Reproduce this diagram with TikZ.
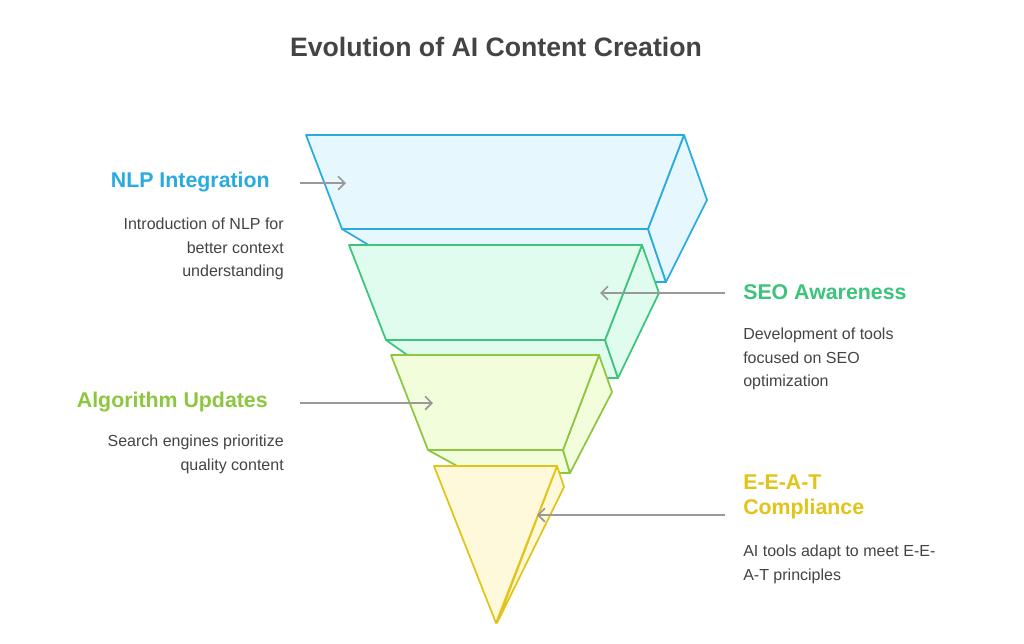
\documentclass[tikz,border=0pt]{standalone}
\usepackage{fontspec}
\setmainfont{Liberation Sans}
\usetikzlibrary{arrows.meta}
\definecolor{bS}{HTML}{29ABE2}\definecolor{bF}{HTML}{E6F7FD}
\definecolor{gS}{HTML}{3CC47C}\definecolor{gF}{HTML}{E0FCEE}
\definecolor{lS}{HTML}{8DC63F}\definecolor{lF}{HTML}{F2FDDB}
\definecolor{yS}{HTML}{E2C418}\definecolor{yF}{HTML}{FFF9DB}
\definecolor{txt}{HTML}{444444}\definecolor{arr}{HTML}{999999}
\begin{document}
\begin{tikzpicture}[x=0.75pt,y=-0.75pt,
  face/.style={line width=1.3pt,line join=round},
  conn/.style={arr,line width=1.3pt,-{Straight Barb[length=5pt,width=10pt]}},
  head/.style={font=\fontsize{16}{19}\selectfont\bfseries,inner sep=0pt},
  desc/.style={font=\fontsize{12}{17.5}\selectfont,text=txt,inner sep=0pt}]
\useasboundingbox[fill=white] (0,0) rectangle (1024,643);
\node[font=\fontsize{20}{24}\selectfont\bfseries,text=txt] (title) at (496,47) {Evolution of AI Content Creation};
% blue layer
\draw[face,draw=bS,fill=bF] (342,229)--(648,229)--(666,282)--(430,282)--cycle;
\draw[face,draw=bS,fill=bF] (684,135)--(707,200)--(666,282)--(648,229)--cycle;
\draw[face,draw=bS,fill=bF] (306,135)--(684,135)--(648,229)--(342,229)--cycle;
% green layer
\draw[face,draw=gS,fill=gF] (386,340)--(605,340)--(618,378)--(440,378)--cycle;
\draw[face,draw=gS,fill=gF] (642,245)--(659,293)--(618,378)--(605,340)--cycle;
\draw[face,draw=gS,fill=gF] (349,245)--(642,245)--(605,340)--(386,340)--cycle;
% light green layer
\draw[face,draw=lS,fill=lF] (428,450)--(563,450)--(570,473)--(470,473)--cycle;
\draw[face,draw=lS,fill=lF] (599,355)--(612,392)--(570,473)--(563,450)--cycle;
\draw[face,draw=lS,fill=lF] (391,355)--(599,355)--(563,450)--(428,450)--cycle;
% yellow layer
\draw[face,draw=yS,fill=yF] (557,466)--(564,487)--(497,623)--cycle;
\draw[face,draw=yS,fill=yF] (434,466)--(557,466)--(496,623)--cycle;
% labels
\node[head,text=bS,anchor=east] (h1) at (270,182) {NLP Integration};
\node[desc,anchor=north east,align=right] (d1) at (284,218) {Introduction of NLP for\\better context\\understanding};
\node[head,text=gS,anchor=west] (h2) at (743,292) {SEO Awareness};
\node[desc,anchor=north west,align=left] (d2) at (743,328) {Development of tools\\focused on SEO\\optimization};
\node[head,text=lS,anchor=east] (h3) at (268,402) {Algorithm Updates};
\node[desc,anchor=north east,align=right] (d3) at (284,435) {Search engines prioritize\\quality content};
\node[head,text=yS,anchor=west,align=left] (h4) at (743,497) {E-E-A-T\\Compliance};
\node[desc,anchor=north west,align=left] (d4) at (743,545) {AI tools adapt to meet E-E-\\A-T principles};
% connectors
\coordinate (a1s) at (300,183); \coordinate (a1e) at (346,183);
\coordinate (a2s) at (725,293); \coordinate (a2e) at (600,293);
\coordinate (a3s) at (300,403); \coordinate (a3e) at (433,403);
\coordinate (a4s) at (725,515); \coordinate (a4e) at (537,515);
\draw[conn] (a1s)--(a1e);
\draw[conn] (a2s)--(a2e);
\draw[conn] (a3s)--(a3e);
\draw[conn] (a4s)--(a4e);
\end{tikzpicture}
\end{document}
